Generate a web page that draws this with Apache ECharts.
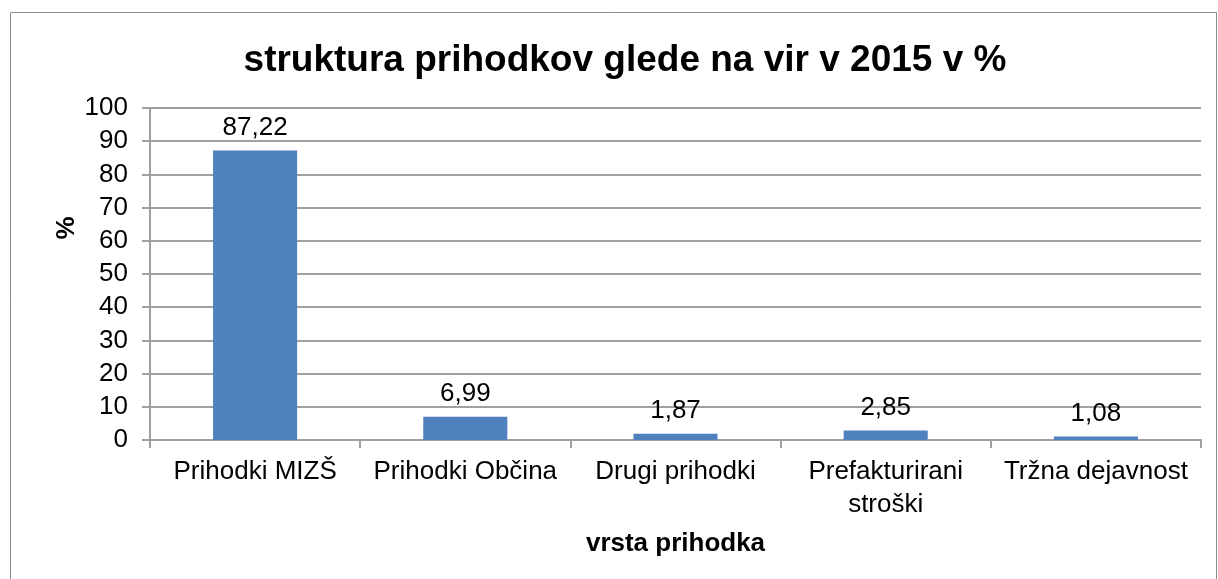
<!DOCTYPE html>
<html>
<head>
<meta charset="utf-8">
<script src="https://cdn.jsdelivr.net/npm/echarts@6/dist/echarts.min.js"></script>
<style>
  html, body { margin: 0; padding: 0; background: #fff; }
  #chart { width: 1218px; height: 579px; }
</style>
</head>
<body>
<div id="chart"></div>
<script>
const categories = ['Prihodki MIZŠ', 'Prihodki Občina', 'Drugi prihodki', 'Prefakturirani\nstroški', 'Tržna dejavnost']
const values = [87.22, 6.99, 1.87, 2.85, 1.08]
const yTicks = [0, 10, 20, 30, 40, 50, 60, 70, 80, 90, 100]

const chart = echarts.init(document.getElementById('chart'))
const font = 'Arial, "Liberation Sans", sans-serif'
const lineColor = '#a0a0a0'

chart.setOption({
  backgroundColor: '#fff',
  animation: false,
  graphic: [{
    type: 'rect',
    shape: { x: 10.5, y: 12.5, width: 1206, height: 570 },
    style: { fill: 'none', stroke: '#8c8c8c', lineWidth: 1 },
    silent: true
  }],
  title: {
    text: 'struktura prihodkov glede na vir v 2015 v %',
    left: 620,
    textAlign: 'center',
    top: 37,
    textStyle: { fontFamily: font, fontSize: 37, fontWeight: 'bold', color: '#000' }
  },
  grid: { left: 150, right: 17, top: 108, bottom: 139 },
  xAxis: {
    type: 'category',
    data: categories,
    name: 'vrsta prihodka',
    nameLocation: 'middle',
    nameGap: 91,
    nameTextStyle: { fontFamily: font, fontSize: 26, fontWeight: 'bold', color: '#000' },
    axisLine: { lineStyle: { color: lineColor, width: 2 } },
    axisTick: { show: true, length: 8, lineStyle: { color: lineColor, width: 2 } },
    axisLabel: { fontFamily: font, fontSize: 26, color: '#000', margin: 15, lineHeight: 33, interval: 0 }
  },
  yAxis: {
    type: 'value',
    min: yTicks[0],
    max: yTicks[yTicks.length - 1],
    interval: 10,
    name: '%',
    nameLocation: 'middle',
    nameRotate: 90,
    nameGap: 70,
    nameMoveOverlap: false,
    nameTextStyle: { fontFamily: font, fontSize: 26, fontWeight: 'bold', color: '#000', padding: [0, 0, 0, 92] },
    axisLine: { show: true, lineStyle: { color: lineColor, width: 2 } },
    axisTick: { show: true, length: 8, lineStyle: { color: lineColor, width: 2 } },
    axisLabel: { fontFamily: font, fontSize: 26, color: '#000', margin: 22 },
    splitLine: { lineStyle: { color: lineColor, width: 2 } }
  },
  series: [{
    type: 'bar',
    data: values,
    barWidth: '40%',
    itemStyle: { color: '#4f81bd' },
    label: {
      show: true,
      position: 'top',
      distance: 10,
      fontFamily: font,
      fontSize: 26,
      color: '#000',
      formatter: p => p.value.toFixed(2).replace('.', ',')
    }
  }]
})
</script>
</body>
</html>
